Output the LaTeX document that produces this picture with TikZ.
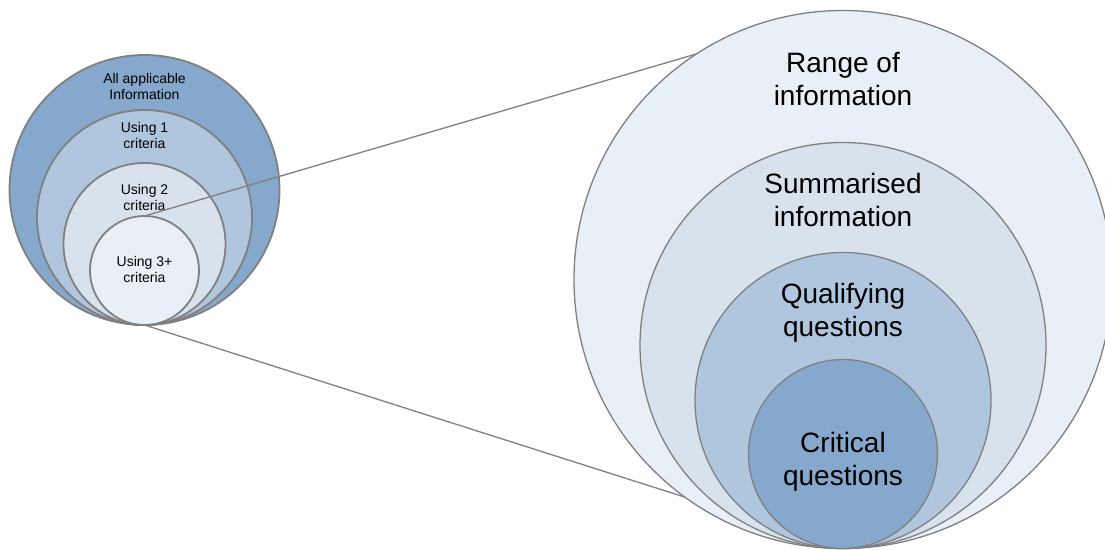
\documentclass[tikz,border=0pt]{standalone}
\usepackage{fontspec}
\setmainfont{Liberation Sans}
\usepackage{xcolor}
\definecolor{mydark}{RGB}{133,168,204}
\definecolor{mymid}{RGB}{175,198,222}
\definecolor{mylight}{RGB}{216,226,237}
\definecolor{mypale}{RGB}{233,239,246}
\definecolor{mygray}{RGB}{128,128,128}
\usepackage{tikz}

\begin{document}
\begin{tikzpicture}[x=1pt,y=-1pt]
	\tikzstyle{ring}=[circle,draw=mygray,inner sep=0pt,outer sep=0pt];
	\tikzstyle{small}=[align=center,inner sep=0pt,font=\fontsize{14}{16}\selectfont];
	\tikzstyle{big}=[align=center,inner sep=0pt,font=\fontsize{28}{33}\selectfont];
	\tikzstyle{link}=[draw=mygray,line width=1.3pt];
	\useasboundingbox (0,0) rectangle (1105,549);
	%% Left Circles
	\node[ring,line width=1.8pt,fill=mydark,minimum size=270pt] (all) at (144.5,190) {};
	\node[ring,line width=1.8pt,fill=mymid,minimum size=215pt] (use1) at (144.5,217.5) {};
	\node[ring,line width=1.8pt,fill=mylight,minimum size=162pt] (use2) at (144.5,244) {};
	\node[ring,line width=1.8pt,fill=mypale,minimum size=109pt] (use3) at (144.5,270.5) {};
	%% Left Labels
	\node[small] (all-t) at (144.5,86) {All applicable\\Information};
	\node[small] (use1-t) at (144.5,135.5) {Using 1\\criteria};
	\node[small] (use2-t) at (144.5,197) {Using 2\\criteria};
	\node[small] (use3-t) at (144.5,269.5) {Using 3+\\criteria};
	%% Right Circles
	\node[ring,line width=1.3pt,fill=mypale,minimum size=538pt] (range) at (843,279.5) {};
	\node[ring,line width=1.3pt,fill=mylight,minimum size=406pt] (summ) at (843,345.5) {};
	\node[ring,line width=1.3pt,fill=mymid,minimum size=296pt] (qual) at (843,400.5) {};
	\node[ring,line width=1.3pt,fill=mydark,minimum size=189pt] (crit) at (843,454) {};
	%% Right Labels
	\node[big] (range-t) at (843,79) {Range of\\information};
	\node[big] (summ-t) at (843,199.5) {Summarised\\information};
	\node[big] (qual-t) at (843,312.5) {Qualifying\\questions};
	\node[big] (crit-t) at (843,462) {Critical\\questions};
	%% Zoom Lines
	\draw[link] (use3.north) -- (range.123);
	\draw[link] (use3.south) -- (range.234);
\end{tikzpicture}
\end{document}
